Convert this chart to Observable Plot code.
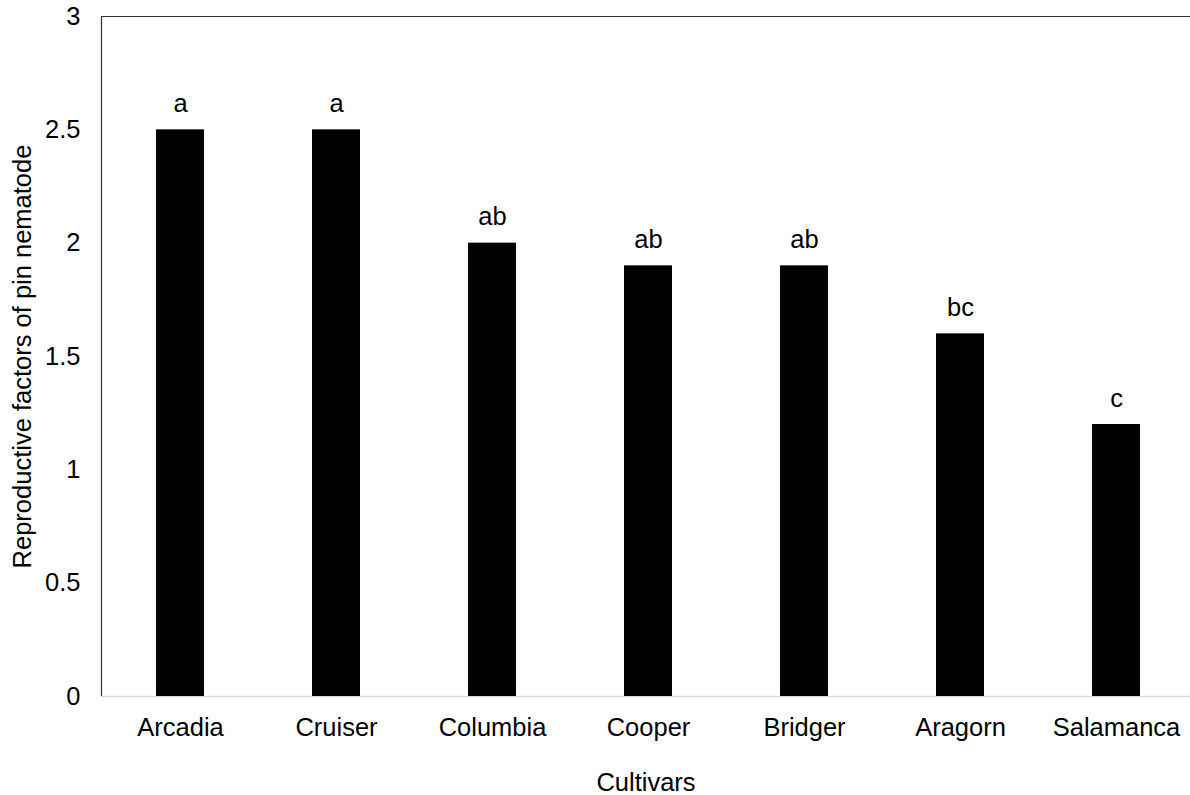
<!DOCTYPE html>
<html>
<head>
<meta charset="utf-8">
<script src="https://cdn.jsdelivr.net/npm/d3@7"></script>
<script src="https://cdn.jsdelivr.net/npm/@observablehq/plot@0.6"></script>
<style>
  html, body { margin: 0; padding: 0; background: #fff; }
  #chart svg { display: block; }
</style>
</head>
<body>
<div id="chart"></div>
<script>
const cultivars = ["Arcadia", "Cruiser", "Columbia", "Cooper", "Bridger", "Aragorn", "Salamanca"];
const rfValues = [2.5, 2.5, 2.0, 1.9, 1.9, 1.6, 1.2];
const letters = ["a", "a", "ab", "ab", "ab", "bc", "c"];
const yTicks = [0, 0.5, 1, 1.5, 2, 2.5, 3];

const data = cultivars.map((c, i) => ({cultivar: c, rf: rfValues[i], letter: letters[i]}));
const FS = 25.5;

const chart = Plot.plot({
  width: 1190,
  height: 795,
  marginLeft: 101,
  marginRight: 0,
  marginTop: 16,
  marginBottom: 99,
  style: {fontFamily: "'Liberation Sans', Arial, sans-serif", fontSize: FS + "px", color: "#000", background: "#fff"},
  x: {domain: cultivars, range: [100, 1196], paddingInner: 0.69, paddingOuter: 0.345, label: null},
  y: {domain: [0, 3], label: null},
  marks: [
    Plot.ruleY([0], {stroke: "#d9d9d9", strokeWidth: 1.5}),
    Plot.barY(data, {x: "cultivar", y: "rf", fill: "#000"}),
    Plot.text(data, {x: "cultivar", y: "rf", text: "letter", dy: -26, fontSize: FS, fill: "#000"}),
    Plot.ruleY([3], {stroke: "#333", strokeWidth: 1.2}),
    Plot.axisY({ticks: yTicks, tickSize: 0, tickPadding: 21, fontSize: FS, tickFormat: d => String(d), label: null}),
    Plot.axisX({tickSize: 0, tickPadding: 21, fontSize: FS, label: null}),
    Plot.text(["Reproductive factors of pin nematode"], {frameAnchor: "left", dx: -79, rotate: -90, fontSize: FS, fill: "#000", textAnchor: "middle"}),
    Plot.text(["Cultivars"], {frameAnchor: "bottom", dy: 94, fontSize: FS, fill: "#000"})
  ]
});

// left frame line
const svg = d3.select(chart);
svg.append("line")
  .attr("x1", 101.5).attr("x2", 101.5)
  .attr("y1", 16).attr("y2", 696)
  .attr("stroke", "#333").attr("stroke-width", 1.2);

document.getElementById("chart").appendChild(chart);
</script>
</body>
</html>
